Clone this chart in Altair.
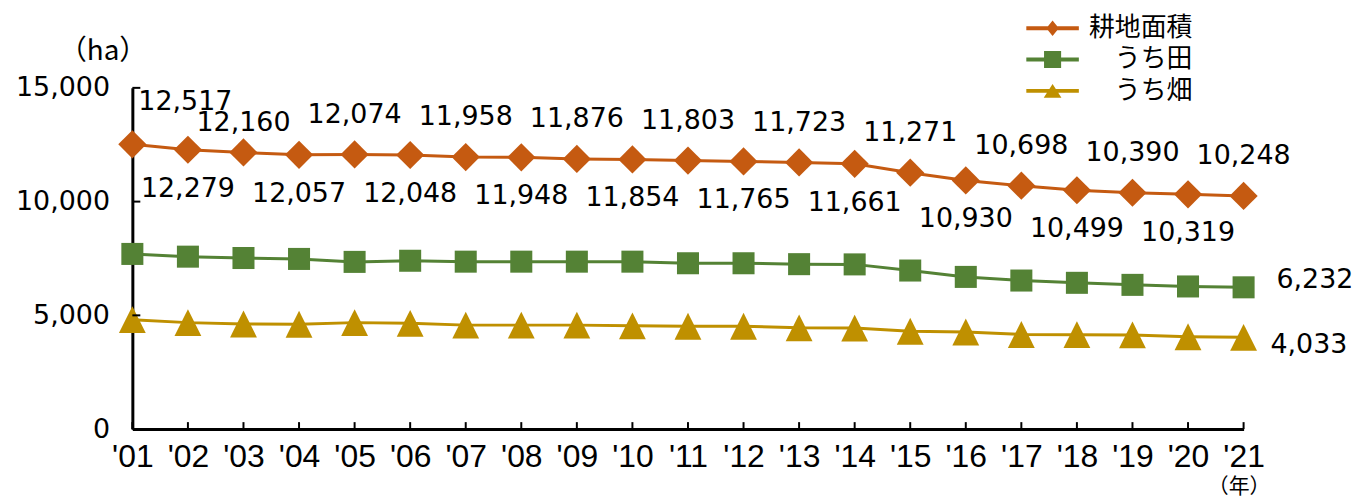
import altair as alt
import pandas as pd

# ---- data ----
years = ["'01", "'02", "'03", "'04", "'05", "'06", "'07", "'08", "'09", "'10",
         "'11", "'12", "'13", "'14", "'15", "'16", "'17", "'18", "'19", "'20", "'21"]
series_names = ["耕地面積", "うち田", "うち畑"]
cultivated = [12517, 12279, 12160, 12057, 12074, 12048, 11958, 11948, 11876, 11854,
              11803, 11765, 11723, 11661, 11271, 10930, 10698, 10499, 10390, 10319, 10248]
paddy = [7700, 7580, 7520, 7480, 7350, 7400, 7360, 7360, 7360, 7360,
         7290, 7290, 7250, 7240, 6970, 6690, 6530, 6430, 6340, 6270, 6232]
upland = [4810, 4680, 4620, 4610, 4680, 4650, 4570, 4570, 4570, 4540,
          4520, 4520, 4450, 4440, 4300, 4270, 4160, 4150, 4140, 4060, 4033]
y_ticks = [0, 5000, 10000, 15000]
colors = ["#C55A11", "#548235", "#BF9000"]

rows = []
for k, (name, vals) in enumerate(zip(series_names, [cultivated, paddy, upland])):
    for i, (yr, v) in enumerate(zip(years, vals)):
        rows.append({"yr": yr, "n": i + 1, "s": k, "series": name, "value": v})
df = pd.DataFrame(rows)

W, H = 1117, 343

x_scale = alt.Scale(type="point", padding=0, domain=years)
y_scale = alt.Scale(domain=[0, 15000], nice=False, zero=True)

x_axis = alt.Axis(labelPadding=13, labelAngle=0, labelOverlap=False, labelFlush=False,
                  titleX=1112, titleY=58, titleAlign="center", titleBaseline="middle",
                  titleFontSize=21)
y_axis = alt.Axis(values=y_ticks, labelExpr="format(datum.value, ',')", labelPadding=23,
                  titleAngle=0, titleX=-30, titleY=-37, titleAlign="center",
                  titleBaseline="middle", titleFontSize=28)

X = alt.X("yr:O", scale=x_scale, axis=x_axis, sort=years, title="（年）")
Y = alt.Y("value:Q", scale=y_scale, axis=y_axis, title="（ha）")

color_scale = alt.Scale(domain=series_names, range=colors)

marker_paths = [
    "M0,-1.05L1.05,0L0,1.05L-1.05,0Z",
    "M-0.82,-0.82L0.82,-0.82L0.82,0.82L-0.82,0.82Z",
    "M0,-1L1,1L-1,1Z",
]
bar = "M-1.6,-0.12L1.6,-0.12L1.6,0.12L-1.6,0.12Z "
legend_paths = [
    bar + "M0,-0.47L0.38,0L0,0.47L-0.38,0Z",
    bar + "M-0.52,-0.52L0.52,-0.52L0.52,0.52L-0.52,0.52Z",
    bar + "M0,-0.42L0.54,0.42L-0.54,0.42Z",
]

base = alt.Chart(df)

lines = base.mark_line(strokeWidth=3).encode(
    x=X, y=Y,
    color=alt.Color("series:N", scale=color_scale, legend=None),
)

points = base.mark_point(filled=True, size=729, opacity=1, strokeWidth=0).encode(
    x=X, y=Y,
    color=alt.Color("series:N", scale=color_scale, legend=None),
    shape=alt.Shape("series:N", scale=alt.Scale(domain=series_names, range=marker_paths), legend=None),
)

leg = alt.Legend(orient="none", legendX=908.5, legendY=-76.5, title=None, padding=0,
                 symbolSize=1089, symbolStrokeWidth=0, labelFont="Noto Sans CJK JP",
                 labelFontSize=26, labelColor="black", labelAlign="right",
                 labelOffset=124, rowPadding=1.5)

legend_layer = base.transform_filter("false").mark_point(filled=True, size=1089, opacity=1).encode(
    x=X, y=Y,
    color=alt.Color("series:N", scale=color_scale, legend=leg),
    shape=alt.Shape("series:N", scale=alt.Scale(domain=series_names, range=legend_paths), legend=leg),
)

txt = dict(font="DejaVu Sans", fontSize=27, color="black", baseline="middle")
T = alt.Text("value:Q", format=",")

lab_first = base.transform_filter("datum.s == 0 && datum.n == 1").mark_text(
    align="left", dx=6, dy=-43, **txt).encode(x=X, y=Y, text=T)
lab_third = base.transform_filter("datum.s == 0 && datum.n == 3").mark_text(
    align="center", dy=-30, **txt).encode(x=X, y=Y, text=T)
lab_above = base.transform_filter("datum.s == 0 && datum.n > 3 && datum.n % 2 == 1").mark_text(
    align="center", dy=-40, **txt).encode(x=X, y=Y, text=T)
lab_below = base.transform_filter("datum.s == 0 && datum.n % 2 == 0").mark_text(
    align="center", dy=39, **txt).encode(x=X, y=Y, text=T)
lab_paddy = base.transform_filter("datum.s == 1 && datum.n == 21").mark_text(
    align="left", dx=33, dy=-7, **txt).encode(x=X, y=Y, text=T)
lab_upland = base.transform_filter("datum.s == 2 && datum.n == 21").mark_text(
    align="left", dx=27, dy=8, **txt).encode(x=X, y=Y, text=T)

x_ticks = base.transform_filter("datum.s == 0").mark_tick(
    orient="vertical", size=7, thickness=2, color="black", yOffset=-3.5, opacity=1).encode(
    x=X, y=alt.YDatum(0))

y_ticks_layer = alt.Chart(pd.DataFrame({"value": y_ticks, "yr": [years[0]] * len(y_ticks)})).mark_tick(
    orient="horizontal", size=8, thickness=2, color="black", xOffset=4, opacity=1).encode(
    y=Y, x=X)

chart = alt.layer(
    lines, points, legend_layer, x_ticks, y_ticks_layer,
    lab_first, lab_third, lab_above, lab_below, lab_paddy, lab_upland,
).resolve_scale(color="independent", shape="independent").properties(
    width=W, height=H,
    padding={"left": 125, "top": 79, "right": 115, "bottom": 70},
    autosize=alt.AutoSizeParams(type="none"),
).configure_view(stroke=None).configure_axis(
    domainColor="black", domainWidth=3, ticks=False, tickSize=0, grid=False,
    labelColor="black", titleColor="black", titleFont="Noto Sans CJK JP",
    titleFontWeight="normal",
).configure_axisX(
    labelFont="Liberation Sans", labelFontSize=32,
).configure_axisY(
    labelFont="DejaVu Sans", labelFontSize=27,
)

chart.save("out.html", embed_options={"renderer": "svg", "actions": False})
